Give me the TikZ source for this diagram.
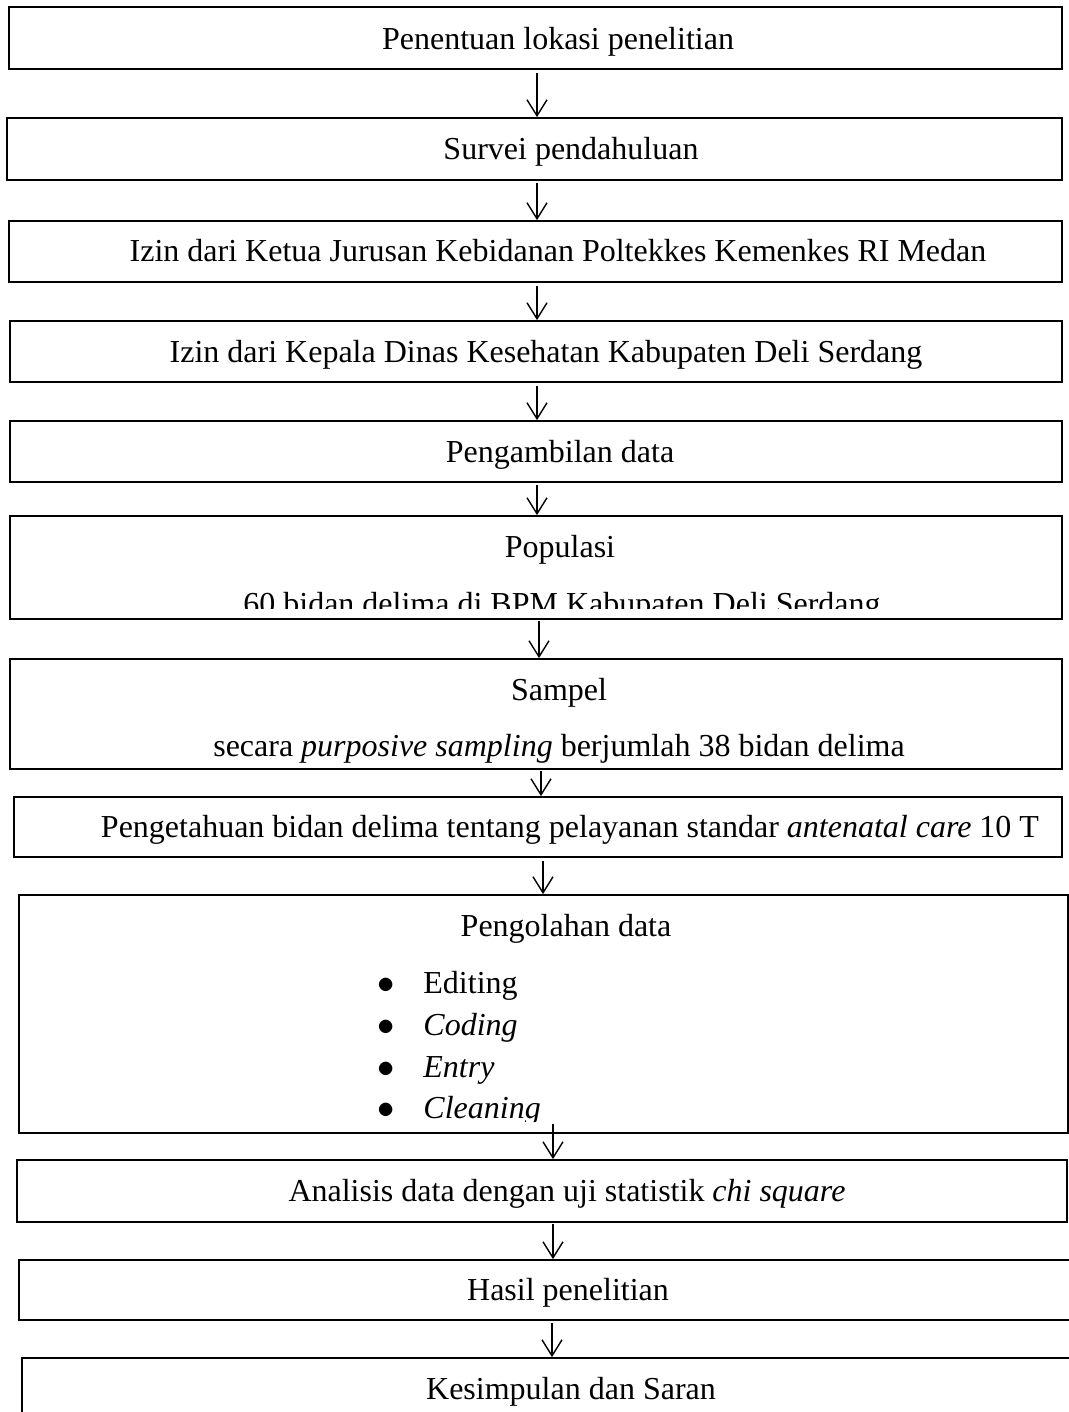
\documentclass[tikz,border=0pt]{standalone}
\usepackage{fontspec}
\setmainfont{Liberation Serif}
\usetikzlibrary{
  arrows.meta,
  calc,
  fit
}
\tikzset{
  % Kotak langkah
  stepbox/.style = {draw=black, line width=0.9pt, inner sep=0pt},
  % Panah alur
  flowarr/.style = {-{Straight Barb[length=8pt,width=10pt]}, line width=0.7pt},
  % Teks
  lab/.style     = {font=\fontsize{16}{19}\selectfont, inner sep=0pt, anchor=base},
  itemlab/.style = {lab, anchor=base west},
}
\begin{document}
\begin{tikzpicture}[x=0.5pt, y=-0.5pt]
  \useasboundingbox (0,0) rectangle (1069,1412);
  \clip (0,0) rectangle (1069,1412);
  \fill[white] (0,0) rectangle (1069,1412);
  % Kotak-kotak alur
  \node[stepbox, fit={(9,7) (1062,69)}]      (b1) {};
  \node[stepbox, fit={(7,118) (1062,180)}]   (b2) {};
  \node[stepbox, fit={(9,221) (1062,282)}]   (b3) {};
  \node[stepbox, fit={(10,321) (1062,382)}]  (b4) {};
  \node[stepbox, fit={(10,421) (1062,482)}]  (b5) {};
  \node[stepbox, fit={(10,516) (1062,619)}]  (b6) {};
  \node[stepbox, fit={(10,659) (1062,769)}]  (b7) {};
  \node[stepbox, fit={(14,797) (1062,857)}]  (b8) {};
  \node[stepbox, fit={(19,895) (1068,1133)}] (b9) {};
  \node[stepbox, fit={(17,1160) (1067,1222)}] (b10) {};
  \node[stepbox, fit={(19,1260) (1085,1320)}] (b11) {};
  \node[stepbox, fit={(22,1358) (1085,1430)}] (b12) {};
  % Teks dalam kotak
  \node[lab] (t1) at (558,50) {Penentuan lokasi penelitian};
  \node[lab] (t2) at (571,160) {Survei pendahuluan};
  \node[lab] (t3) at (558,262) {Izin dari Ketua Jurusan Kebidanan Poltekkes Kemenkes RI Medan};
  \node[lab] (t4) at (546,362) {Izin dari Kepala Dinas Kesehatan Kabupaten Deli Serdang};
  \node[lab] (t5) at (560,462) {Pengambilan data};
  \node[lab] (t6) at (560,557) {Populasi};
  \begin{scope}
    \clip (10,516) rectangle (1062,608);
    \node[lab] (t6b) at (562,614) {60 bidan delima di BPM Kabupaten Deli Serdang};
  \end{scope}
  \node[lab] (t7) at (559,700) {Sampel};
  \node[lab] (t7b) at (559,756) {secara \textit{purposive sampling} berjumlah 38 bidan delima};
  \node[lab] (t8) at (570,837) {Pengetahuan bidan delima tentang pelayanan standar \textit{antenatal care} 10 T};
  \node[lab] (t9) at (566,936) {Pengolahan data};
  \begin{scope}
    \clip (19,895) rectangle (1068,1121);
    \node[lab] (d1) at (386,993)  {$\bullet$};
    \node[itemlab] (i1) at (423,993)  {Editing};
    \node[lab] (d2) at (386,1035) {$\bullet$};
    \node[itemlab] (i2) at (423,1035) {\textit{Coding}};
    \node[lab] (d3) at (386,1077) {$\bullet$};
    \node[itemlab] (i3) at (423,1077) {\textit{Entry}};
    \node[lab] (d4) at (386,1118) {$\bullet$};
    \node[itemlab] (i4) at (423,1118) {\textit{Cleaning}};
  \end{scope}
  \node[lab] (t10) at (567,1201) {Analisis data dengan uji statistik \textit{chi square}};
  \node[lab] (t11) at (568,1300) {Hasil penelitian};
  \node[lab] (t12) at (571,1399) {Kesimpulan dan Saran};
  % Panah
  \coordinate (a1)  at ($(b1.south)+(1.5,3)$);
  \coordinate (a2)  at ($(b2.south)+(2.5,2)$);
  \coordinate (a3)  at ($(b3.south)+(1.5,3)$);
  \coordinate (a4)  at ($(b4.south)+(1,3)$);
  \coordinate (a5)  at ($(b5.south)+(1,2)$);
  \coordinate (a6)  at ($(b6.south)+(3,1)$);
  \coordinate (a7)  at ($(b7.south)+(5,1)$);
  \coordinate (a8)  at ($(b8.south)+(5,3)$);
  \coordinate (a9)  at ($(b9.south)+(9.5,-10)$);
  \coordinate (a10) at ($(b10.south)+(11,1)$);
  \coordinate (a11) at ($(b11.south)+(0,2)$);
  \draw[flowarr] (a1)  -- (a1 |- b2.north);
  \draw[flowarr] (a2)  -- (a2 |- b3.north);
  \draw[flowarr] (a3)  -- (a3 |- b4.north);
  \draw[flowarr] (a4)  -- (a4 |- b5.north);
  \draw[flowarr] (a5)  -- (a5 |- b6.north);
  \draw[flowarr] (a6)  -- (a6 |- b7.north);
  \draw[flowarr] (a7)  -- (a7 |- b8.north);
  \draw[flowarr] (a8)  -- (a8 |- b9.north);
  \draw[flowarr] (a9)  -- (a9 |- b10.north);
  \draw[flowarr] (a10) -- (a10 |- b11.north);
  \draw[flowarr] (a11) -- (a11 |- b12.north);
\end{tikzpicture}
\end{document}
